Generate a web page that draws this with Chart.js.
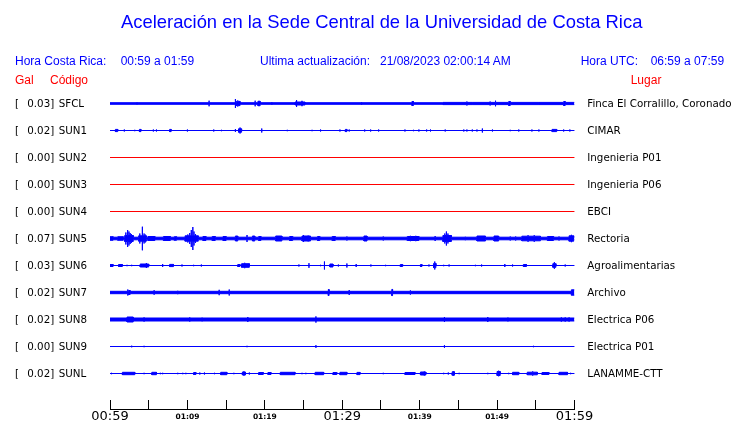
<!DOCTYPE html>
<html>
<head>
<meta charset="utf-8">
<script src="https://cdn.jsdelivr.net/npm/chart.js@4.4.0/dist/chart.umd.min.js"></script>
<style>
  html, body { margin: 0; padding: 0; background: #fff; }
  #wrap { position: relative; width: 740px; height: 423px; overflow: hidden; }
  #c { position: absolute; left: 0; top: 0; }
  .t { position: absolute; white-space: pre; font-family: "Liberation Sans", Arial, sans-serif; line-height: 1; }
  .blue { color: #0000ff; }
  .red { color: #ff0000; }
</style>
</head>
<body>
<div id="wrap">
  <canvas id="c" width="740" height="423"></canvas>
  <div class="t blue" style="left:121px; top:13px; font-size:18.4px;">Aceleración en la Sede Central de la Universidad de Costa Rica</div>
  <div class="t blue" style="left:15px; top:55px; font-size:12px;">Hora Costa Rica:</div>
  <div class="t blue" style="left:120.7px; top:55px; font-size:12px;">00:59 a 01:59</div>
  <div class="t blue" style="left:260px; top:55px; font-size:12px;">Ultima actualización:</div>
  <div class="t blue" style="left:380px; top:55px; font-size:12px;">21/08/2023 02:00:14 AM</div>
  <div class="t blue" style="left:580.7px; top:55px; font-size:12px;">Hora UTC:</div>
  <div class="t blue" style="left:650.7px; top:55px; font-size:12px;">06:59 a 07:59</div>
  <div class="t red" style="left:15px; top:74px; font-size:12px;">Gal</div>
  <div class="t red" style="left:50px; top:74px; font-size:12px;">Código</div>
  <div class="t red" style="left:630.7px; top:74px; font-size:12px;">Lugar</div>
</div>
<script>
// ---------------- DATA ----------------
const CODES  = ['SFCL', 'SUN1', 'SUN2', 'SUN3', 'SUN4', 'SUN5', 'SUN6', 'SUN7', 'SUN8', 'SUN9', 'SUNL'];
const PLACES = ['Finca El Corralillo, Coronado', 'CIMAR', 'Ingenieria P01', 'Ingenieria P06', 'EBCI',
                'Rectoria', 'Agroalimentarias', 'Archivo', 'Electrica P06', 'Electrica P01', 'LANAMME-CTT'];
const GAL    = [0.03, 0.02, 0.00, 0.00, 0.00, 0.07, 0.03, 0.02, 0.02, 0.00, 0.02];
const SIGNAL = [1, 1, 0, 0, 0, 1, 1, 1, 1, 1, 1];   // 0 = no signal (drawn red)

// tick positions in minutes after 00:59 and their labels
const TICK_MINUTES = [0, 5, 10, 15, 20, 25, 30, 35, 40, 45, 50, 55, 60];
const TICK_LABELS  = ['00:59', '', '01:09', '', '01:19', '', '01:29', '', '01:39', '', '01:49', '', '01:59'];
const MAJOR_TICKS  = [0, 30, 60];

// background half-amplitude of each trace
const BASE_AMP = [1.3, 0.5, 0, 0, 0, 1.8, 0.5, 1.7, 2.0, 0.5, 0.5];

// events: [minute, halfAmp] = spike, [startMin, endMin, halfAmp] = burst
const SFCL_EV = [[3.5, 1.8], [12.8, 3.3], [16.2, 5], [16.3, 16.8, 2.6], [16.5, 3.5], [18.75, 3.3], [19.1, 19.4, 2.6],
  [19.25, 3.2], [20.9, 2], [23.9, 25.2, 2.0], [24.1, 4], [24.8, 3.2], [32.5, 2], [39.0, 39.2, 2.5], [43, 60, 1.6],
  [46.1, 2.5], [46.8, 2], [49.1, 2.5], [49.8, 3.3], [51.5, 51.7, 2.5], [55.4, 2], [58.6, 58.8, 2.5]];
const SUN1_EV = [[0.7, 1.0, 1.6], [1.85, 1.5], [3.2, 1.2], [3.8, 4.0, 1.6], [5.6, 1.5], [6.0, 1.5], [7.7, 7.9, 1.6],
  [10.0, 1.5], [13.4, 1.5], [14.4, 1.2], [16.2, 2], [16.6, 17.0, 2.2], [16.8, 3.5], [19.6, 2.5], [22.9, 1.2],
  [26.1, 1.2], [27.2, 1.5], [29.7, 1.5], [30.4, 30.6, 1.6], [30.9, 1.5], [32.9, 1.5], [33.6, 33.7, 1.5], [34.7, 1.5],
  [38.1, 1.5], [39.2, 1.2], [39.9, 1.5], [40.9, 1.5], [41.4, 1.5], [43.3, 1.5], [45.7, 1.5], [46.1, 1.5], [46.8, 1.5],
  [47.4, 1.5], [48.1, 2.5], [49.4, 1.5], [51.7, 1.2], [52.8, 1.5], [54.5, 1.5], [55.4, 1.5], [57.1, 57.7, 1.6],
  [58.6, 1.5], [59.4, 1.5]];
const SUN2_EV = [];
const SUN3_EV = [];
const SUN4_EV = [];
const SUN5_EV = [[0, 0.4, 2.3], [1.0, 1.7, 2.3], [1.9, 3.0, 3.5], [2.05, 6.5], [2.28, 9], [2.45, 7.5], [2.6, 6],
  [2.75, 5], [3.7, 4.7, 3.2], [3.85, 5.5], [4.18, 12.3], [4.4, 5.5], [4.55, 4.5], [4.9, 5.8, 2.5], [6.9, 7.8, 2.5],
  [8.3, 8.6, 2.3], [9.7, 11.4, 3.2], [10.05, 4.5], [10.3, 6], [10.5, 9], [10.7, 12], [10.85, 7.5], [11.05, 5],
  [12.0, 12.4, 2.5], [13.2, 13.6, 2.5], [14.6, 15.0, 2.5], [16.2, 16.5, 3], [17.7, 4], [18.4, 18.7, 3],
  [19.2, 19.5, 2.5], [21.4, 22.2, 3], [23.2, 23.6, 2.5], [24.8, 25.9, 3.0], [25.0, 4], [25.6, 3.4],
  [26.8, 27.1, 2.5], [28.7, 29.1, 2.5], [30.6, 2.5], [32.8, 33.2, 3], [35.3, 2.5], [38.4, 39.9, 2.5], [38.8, 3.2],
  [39.5, 3.2], [42.0, 3], [43.0, 44.1, 3.5], [43.25, 5.5], [43.45, 7.5], [43.65, 5.5], [45.9, 2.2],
  [47.4, 48.5, 3], [49.6, 50.2, 3], [51.7, 2.5], [52.4, 2.5], [53.2, 55.6, 2.8], [54.0, 3.8], [54.8, 3.8],
  [56.5, 57.3, 2.5], [58.0, 2.5], [59.3, 59.9, 3.2], [59.6, 4.2]];
const SUN6_EV = [[0, 0.4, 1.5], [1.1, 1.6, 1.5], [2.2, 1.2], [2.8, 1.2], [3.9, 5.0, 2], [4.7, 3], [6.8, 2],
  [7.7, 8.2, 1.6], [9.3, 1.5], [10.8, 1.2], [11.8, 1.5], [16.5, 16.8, 1.5], [17.0, 18.0, 2.3], [17.4, 3.2],
  [24.4, 1.5], [25.7, 2.8], [27.2, 1.2], [27.7, 4.5], [28.4, 28.8, 2], [29.5, 1.5], [30.6, 2.5], [31.8, 2],
  [33.7, 1.5], [35.6, 1.2], [37.5, 37.8, 1.5], [40.1, 40.3, 1.5], [41.2, 1.5], [41.8, 42.1, 2.6], [41.95, 4.5],
  [43.1, 1.2], [43.8, 1.5], [47.2, 1.2], [48.0, 1.5], [51.0, 2], [52.0, 1.5], [53.4, 53.8, 1.5],
  [57.2, 57.6, 2.3], [57.4, 3.8], [58.8, 1.5]];
const SUN7_EV = [[2.3, 3.5], [2.4, 2.6, 2.5], [5.7, 2.8], [8.75, 2.2], [14.1, 3.2], [15.4, 3.5], [28.2, 28.3, 3.5],
  [30.9, 3], [36.4, 36.5, 3.6], [38.8, 2.6], [59.6, 60, 3.2]];
const SUN8_EV = [[2.2, 3.0, 3.0], [4.4, 2.6], [10.3, 2.6], [11.9, 2.3], [17.8, 3], [26.6, 3.6], [43.2, 3],
  [48.8, 3], [51.4, 2.4], [58.3, 2.6], [58.8, 2.6], [59.3, 2.6]];
const SUN9_EV = [[2.8, 1.3], [4.4, 1.2], [17.7, 1.2], [26.6, 1.8], [43.2, 1.8], [54.7, 1.2]];
const SUNL_EV = [[0.2, 1.2], [1.6, 3.2, 1.7], [4.4, 1.2], [5.4, 6.0, 1.7], [6.5, 1.2], [6.8, 1.2], [8.75, 1.2],
  [9.4, 1.2], [9.8, 1.2], [10.8, 11.1, 1.5], [11.6, 1.5], [12.2, 1.5], [13.5, 1.2], [14.3, 15.1, 1.7], [16.0, 1.2],
  [17.1, 17.5, 2], [17.3, 2.6], [18.0, 1.5], [19.2, 19.8, 1.5], [20.4, 20.8, 1.5], [22.0, 23.9, 1.7], [24.8, 1.2],
  [25.3, 1.2], [26.5, 27.6, 1.7], [28.8, 29.3, 1.5], [29.7, 30.6, 1.7], [31.9, 32.3, 1.6], [35.3, 1.2],
  [38.1, 39.4, 1.5], [40.1, 40.8, 2], [40.6, 2.5], [43.1, 1.2], [43.7, 1.5], [44.2, 44.5, 2.2], [44.35, 2.8],
  [45.1, 1.2], [48.8, 1.2], [50.0, 50.4, 2.5], [50.2, 3.3], [51.5, 1.2], [52.0, 52.8, 1.7], [53.9, 55.2, 1.8],
  [54.6, 2.6], [55.8, 56.7, 1.5], [58.0, 59.1, 1.7], [59.5, 1.2]];

const EVENTS = [SFCL_EV, SUN1_EV, SUN2_EV, SUN3_EV, SUN4_EV, SUN5_EV, SUN6_EV, SUN7_EV, SUN8_EV, SUN9_EV, SUNL_EV];

// ---------------- LAYOUT / STYLE ----------------
const ROW = 27;               // vertical spacing between traces (y units)
const DURATION = 60;          // minutes shown
const BLUE = '#0000ff', RED = '#ff0000';

// Build a stepped envelope (list of {x, a}) from base amplitude + events
function envelope(base, events) {
  const cuts = new Set([0, DURATION]);
  events.forEach(e => { cuts.add(e[0]); if (e.length === 3) cuts.add(e[1]); });
  const xs = [...cuts].sort((p, q) => p - q);
  const pts = [];
  for (let k = 0; k < xs.length - 1; k++) {
    const x0 = xs[k], x1 = xs[k + 1];
    let a = base;
    events.forEach(e => { if (e.length === 3 && e[0] <= x0 && e[1] >= x1) a = Math.max(a, e[2]); });
    let s = 0;
    events.forEach(e => { if (e.length === 2 && e[0] === x0) s = Math.max(s, e[1]); });
    if (s > a) pts.push({ x: x0, a: s });
    pts.push({ x: x0, a: a });
    pts.push({ x: x1, a: a });
  }
  return pts;
}

const datasets = [];
CODES.forEach((code, i) => {
  const env = envelope(BASE_AMP[i], EVENTS[i]);
  const col = SIGNAL[i] ? BLUE : RED;
  const centre = i * ROW;
  const common = {
    borderColor: col, backgroundColor: col, borderWidth: 1, pointRadius: 0, pointHoverRadius: 0,
    tension: 0, borderJoinStyle: 'miter', spanGaps: false
  };
  datasets.push(Object.assign({}, common, {
    label: code + ' +',
    data: env.map(p => ({ x: p.x, y: centre - Math.max(p.a - 0.5, 0) })),
    fill: '+1'
  }));
  datasets.push(Object.assign({}, common, {
    label: code + ' -',
    data: env.map(p => ({ x: p.x, y: centre + Math.max(p.a - 0.5, 0) })),
    fill: false
  }));
});

const stationLabels = {
  id: 'stationLabels',
  afterDraw(chart) {
    const ctx = chart.ctx, ys = chart.scales.y;
    ctx.save();
    ctx.font = '10.3px "DejaVu Sans"';
    ctx.fillStyle = '#000';
    ctx.textAlign = 'left';
    ctx.textBaseline = 'alphabetic';
    CODES.forEach((code, i) => {
      const py = ys.getPixelForValue(i * ROW) + 3.8;
      ctx.fillText('[', 15, py);
      ctx.fillText(GAL[i].toFixed(2) + ']', 27.3, py);
      ctx.fillText(code, 58.7, py);
      ctx.fillText(PLACES[i], 587.3, py);
    });
    ctx.restore();
  }
};

new Chart(document.getElementById('c'), {
  type: 'line',
  data: { datasets },
  options: {
    responsive: false,
    animation: false,
    devicePixelRatio: 1,
    events: [],
    layout: { padding: { top: 76, left: 110, right: 165.5, bottom: 0 } },
    plugins: { legend: { display: false }, title: { display: false }, tooltip: { enabled: false } },
    scales: {
      x: {
        type: 'linear', min: 0, max: DURATION,
        afterBuildTicks(scale) { scale.ticks = TICK_MINUTES.map(v => ({ value: v })); },
        afterFit(scale) { scale.height = 14; },
        border: { display: true, color: '#000', width: 1 },
        grid: { display: true, drawOnChartArea: false, drawTicks: true, tickLength: -9, color: '#000', lineWidth: 1 },
        ticks: {
          autoSkip: false, maxRotation: 0, minRotation: 0, padding: 10, color: '#000',
          callback: (v, idx) => TICK_LABELS[idx],
          font: (c) => (c.tick && MAJOR_TICKS.includes(c.tick.value))
            ? { family: 'DejaVu Sans', size: 13, weight: 'normal', lineHeight: '14px' }
            : { family: 'DejaVu Sans', size: 7.5, weight: 'bold', lineHeight: '14px' }
        }
      },
      y: {
        type: 'linear', display: false, reverse: true,
        min: -27.5, max: 305.5
      }
    }
  },
  plugins: [stationLabels]
});
</script>
</body>
</html>
